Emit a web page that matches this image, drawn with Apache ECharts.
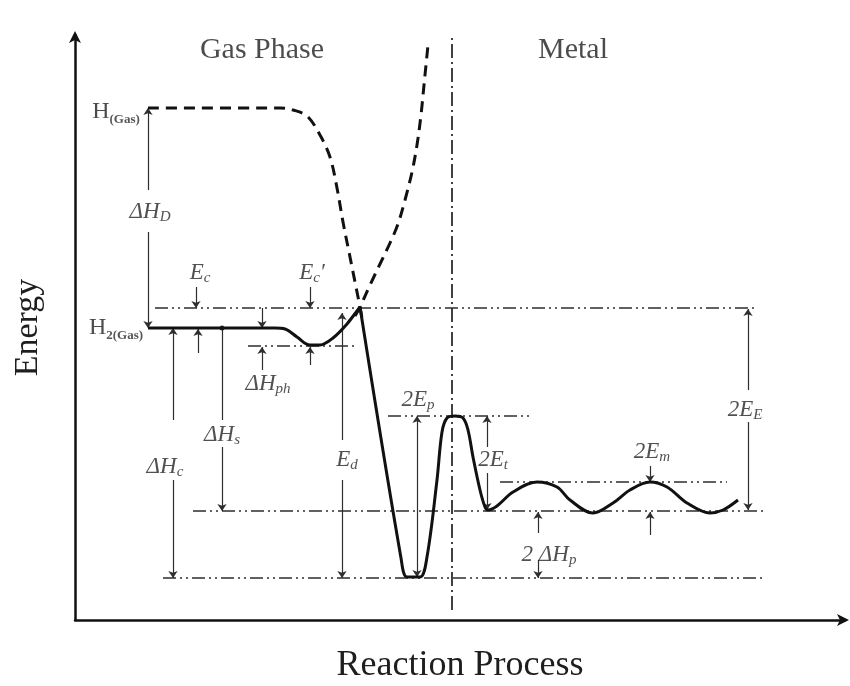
<!DOCTYPE html>
<html>
<head>
<meta charset="utf-8">
<script src="https://cdn.jsdelivr.net/npm/echarts@6/dist/echarts.min.js"></script>
<style>
  html, body { margin: 0; padding: 0; background: #ffffff; }
  #chart { width: 850px; height: 686px; }
</style>
</head>
<body>
<div id="chart"></div>
<script>
// Reaction coordinate (x) and energy (y), arbitrary units.

// H2 molecule approaching the surface: physisorption well, ends at the crossing point
const physisorptionPath = [[73,292],[200,292],[210,291],[222,283],[235,275],[245,275],[258,282],[272,296],[285,313]];
// Dissociative chemisorption well, surface-to-bulk barrier and periodic bulk sites
const chemisorptionPath = [[285,313],[326,62],[332,43],[345,43],[352,63],[362,140],[367,188],[372,202],[380,204],
  [388,202],[393,190],[398,163],[405,130],[410,113],[413,110],[422,114],[438,128],[462,138],[482,133],[495,120],
  [518,107],[538,117],[555,130],[575,138],[592,133],[612,117],[635,107],[648,110],[663,120]];
// Two separated H atoms approaching the surface
const atomicPath = [[73,512],[205,512],[218,510],[232,504],[245,485],[255,463],[262,432],[268,398],[275,363],[280,338],[285,313],[287,302]];
// Repulsive branch of the molecular potential
const repulsivePath = [[280,304],[285,313],[295,335],[305,356],[315,377],[323,396],[330,420],[337,448],[342,475],[346,505],[349,535],[353,575]];

// Reference energy levels: [energy, x start, x end]
const guideLevels = [[312,80,680],[274,173,282],[204,313,455],[138,425,652],[109,118,688],[42,88,690]];
// Gas / metal interface
const interfaceLine = [[377,10],[377,583]];

// Measurement markers: [x, y start, y end, start symbol, end symbol]
const arrows = [
  [73,430,512,'none','arrow'], [73,388,292,'none','arrow'],      // ΔH_D
  [121,333,312,'none','arrow'], [123,267,291,'none','arrow'],     // E_c
  [187,312,292,'none','arrow'], [187,250,273,'none','arrow'],     // E_c gap / ΔH_ph
  [235,333,312,'none','arrow'], [235,255,273,'none','arrow'],     // E_c' / ΔH_ph
  [98,200,292,'none','arrow'], [98,140,42,'none','arrow'],        // ΔH_c
  [147,200,292,'none','circle'], [147,173,109,'none','arrow'],    // ΔH_s
  [267,180,307,'none','arrow'], [267,140,42,'none','arrow'],      // E_d
  [342,43,204,'arrow','arrow'],                                   // 2E_p
  [412,173,204,'none','arrow'], [412,147,110,'none','arrow'],     // 2E_t
  [463,87,108,'none','arrow'], [463,60,42,'none','arrow'],        // 2ΔH_p
  [575,154,138,'none','arrow'], [575,85,108,'none','arrow'],      // 2E_m
  [673,230,311,'none','arrow'], [673,198,110,'none','arrow']      // 2E_E
];

// Annotation texts and anchors
const labelTexts = ['{hr|H}{hs|(Gas)}', '{hr|H}{hs|2(Gas)}', '{t|Gas Phase}', '{t|Metal}',
  '{i|ΔH}{s|D}', '{i|E}{s|c}', '{i|E}{s|c}{i|′}', '{i|ΔH}{s|ph}', '{i|ΔH}{s|s}', '{i|ΔH}{s|c}',
  '{i|E}{s|d}', '{i|2E}{s|p}', '{i|2E}{s|t}', '{i|2 ΔH}{s|p}', '{i|2E}{s|m}', '{i|2E}{s|E}'];
const labelAnchors = [[41,508],[41,292],[187,570],[498,570],
  [75,408],[125,347],[237,347],[193,236],[147,185],[90,153],
  [272,160],[343,220],[418,160],[474,65],[577,168],[670,210]];

const serif = '"Liberation Serif", "DejaVu Serif", serif';
const ink = '#111111';
const thin = '#2e2e2e';

const richStyles = {
  t:  { fontFamily: serif, fontSize: 30, color: '#1e1e1e' },
  hr: { fontFamily: serif, fontSize: 24, color: '#1e1e1e', lineHeight: 28 },
  hs: { fontFamily: serif, fontSize: 13, fontWeight: 'bold', color: '#2a2a2a', lineHeight: 12, verticalAlign: 'bottom' },
  i:  { fontFamily: serif, fontStyle: 'italic', fontSize: 23, color: '#262626', lineHeight: 26 },
  s:  { fontFamily: serif, fontStyle: 'italic', fontSize: 15, color: '#262626', lineHeight: 10, verticalAlign: 'bottom' }
};

const curveSeries = (data, dashed) => ({
  type: 'line', data, showSymbol: false, smooth: 0.35, silent: true,
  lineStyle: { color: ink, width: 3, type: dashed ? [11, 7] : 'solid' }, z: 5
});

const guideSeries = guideLevels.map(([y, x0, x1]) => ({
  type: 'line', data: [[x0, y], [x1, y]], showSymbol: false, silent: true,
  lineStyle: { color: thin, width: 1.6, type: [13, 4, 2, 4, 2, 4] }, z: 3
}));

const axisBase = {
  type: 'value', nameLocation: 'middle',
  nameTextStyle: { fontFamily: serif, fontSize: 34, color: '#1e1e1e' },
  axisLine: { show: true, onZero: false, symbol: ['none', 'arrow'], symbolSize: [9, 12], symbolOffset: [0, 4],
    lineStyle: { color: ink, width: 2.5 } },
  axisTick: { show: false }, axisLabel: { show: false }, splitLine: { show: false }
};

const option = {
  animation: false,
  backgroundColor: '#ffffff',
  grid: { left: 75, right: 5, top: 35, bottom: 66, containLabel: false, outerBoundsMode: 'none' },
  xAxis: Object.assign({}, axisBase, { min: 0, max: 770, name: 'Reaction Process', nameGap: 28,
    nameTextStyle: { fontFamily: serif, fontSize: 36, color: '#1e1e1e' } }),
  yAxis: Object.assign({}, axisBase, { min: 0, max: 585, name: 'Energy', nameGap: 30 }),
  series: [
    ...guideSeries,
    {
      type: 'line', data: interfaceLine, showSymbol: false, silent: true,
      lineStyle: { color: thin, width: 1.8, type: [14, 4, 2, 4] }, z: 3,
      markLine: {
        silent: true, symbolSize: 7, label: { show: false },
        lineStyle: { color: thin, width: 1.2, type: 'solid' },
        data: arrows.map(([x, y0, y1, s0, s1]) => [
          { coord: [x, y0], symbol: s0, symbolSize: s0 === 'circle' ? 5 : 7 },
          { coord: [x, y1], symbol: s1, symbolSize: s1 === 'circle' ? 5 : 7 }
        ])
      }
    },
    curveSeries(physisorptionPath, false),
    curveSeries(chemisorptionPath, false),
    curveSeries(atomicPath, true),
    curveSeries(repulsivePath, true),
    {
      type: 'scatter', symbolSize: 0, silent: true, z: 10,
      data: labelAnchors.map((p, k) => ({ value: p, label: { formatter: labelTexts[k] } })),
      label: { show: true, position: 'inside', align: 'center', verticalAlign: 'middle', rich: richStyles }
    }
  ]
};

const chart = echarts.init(document.getElementById('chart'), null, { renderer: 'canvas' });
chart.setOption(option);
</script>
</body>
</html>
